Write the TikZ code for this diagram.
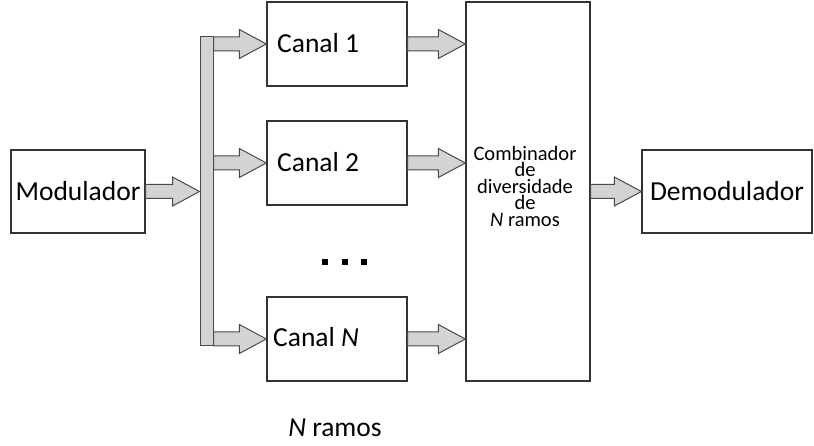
\documentclass[tikz,border=0pt]{standalone}
\usepackage{fontspec}
\setmainfont{Carlito}
\usetikzlibrary{calc}
\definecolor{arrfill}{HTML}{D3D3D3}
\definecolor{arrline}{HTML}{4A4A4A}
\definecolor{boxline}{HTML}{333333}
\tikzset{
  box/.style={draw=boxline, line width=1.3pt, fill=white, inner sep=0pt,
    font=\fontsize{27.5}{30}\selectfont},
  canalbox/.style={box, minimum width=140pt, minimum height=84pt},
  busbar/.style={draw=arrline, line width=1pt, fill=arrfill, inner sep=0pt},
  barrow/.style={draw=arrline, line width=1pt, fill=arrfill, line join=miter},
  dotsq/.style={fill=black, inner sep=0pt, minimum size=6pt},
  bigtext/.style={font=\fontsize{27.5}{30}\selectfont, inner sep=0pt}
}
\newcommand{\blockarr}[2]{%
  \draw[barrow] let \p1=(#1), \p2=(#2) in
    (\x1,\y1+7pt) -- (\x2-27pt,\y1+7pt) -- (\x2-27pt,\y1+14.5pt) -- (\x2,\y1)
    -- (\x2-27pt,\y1-14.5pt) -- (\x2-27pt,\y1-7pt) -- (\x1,\y1-7pt) -- cycle;}
\begin{document}
\begin{tikzpicture}[x=1pt,y=-1pt]
\useasboundingbox (0,0) rectangle (814,446);
% boxes
\node[box, minimum width=134pt, minimum height=83pt] (mod) at (78,191.5) {Modulador};
\node[canalbox] (c1) at (337,44) {};
\node[canalbox] (c2) at (337,163) {};
\node[canalbox] (cN) at (337,339) {};
\node[bigtext, anchor=base west] (c1t) at (277,53) {Canal 1};
\node[bigtext, anchor=base west] (c2t) at (277,172) {Canal 2};
\node[bigtext, anchor=base west] (cNt) at (273,347) {Canal \textit{N}};
\node[box, minimum width=124pt, minimum height=379pt] (comb) at (528,191.5) {};
\node[font=\fontsize{20.5}{16.5}\selectfont, align=center, inner sep=0pt] (combtxt) at (525,186)
  {Combinador\\de\\diversidade\\de\\\textit{N} ramos};
\node[box, minimum width=170pt, minimum height=83pt] (dem) at (727,191.5) {Demodulador};
% bus bar
\node[busbar, minimum width=13pt, minimum height=309pt] (bus) at (206.5,191.5) {};
% arrows
\blockarr{mod.east}{bus.west |- mod.east}
\blockarr{bus.east |- c1.west}{c1.west}
\blockarr{bus.east |- c2.west}{c2.west}
\blockarr{bus.east |- cN.west}{cN.west}
\blockarr{c1.east}{comb.west |- c1.east}
\blockarr{c2.east}{comb.west |- c2.east}
\blockarr{cN.east}{comb.west |- cN.east}
\blockarr{comb.east |- dem.west}{dem.west}
% dots
\node[dotsq] (d1) at (325,262) {};
\node[dotsq] (d2) at (344.5,262) {};
\node[dotsq] (d3) at (364,262) {};
% label
\node[bigtext, anchor=base] (nr) at (335,436) {\textit{N} ramos};
\end{tikzpicture}
\end{document}
